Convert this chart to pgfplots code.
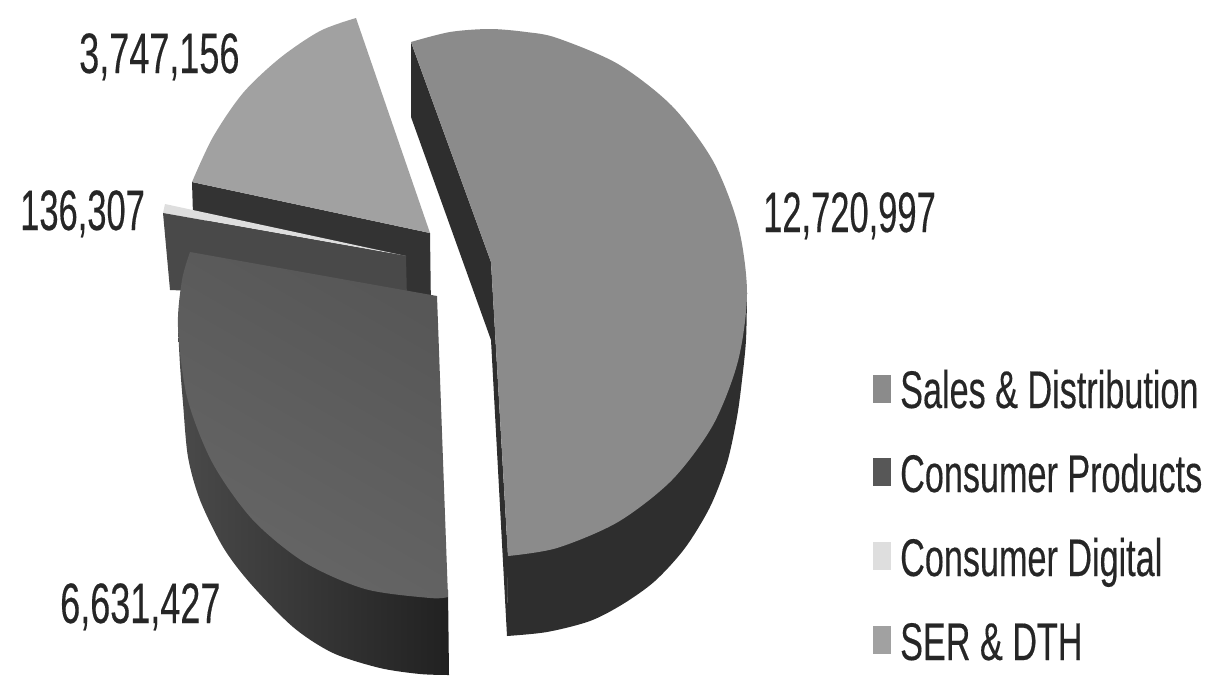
\documentclass[border=0pt]{standalone}
\usepackage{pgfplots}
\pgfplotsset{compat=1.18}
\usepackage{fontspec}
\setmainfont{Liberation Sans}
\newfontfamily\lblfont[FakeStretch=0.632,FakeBold=0.25]{Liberation Sans}
\newfontfamily\lblnarrow[FakeStretch=0.605,FakeBold=0.25]{Liberation Sans}
\newfontfamily\legfont[FakeStretch=0.645,FakeBold=0.25]{Liberation Sans}
\definecolor{salesTop}{gray}{0.545}
\definecolor{salesWall}{gray}{0.18}
\definecolor{prodTopA}{gray}{0.34}
\definecolor{prodTopB}{gray}{0.40}
\definecolor{prodInner}{gray}{0.285}
\definecolor{prodWallA}{gray}{0.29}
\definecolor{prodWallB}{gray}{0.13}
\definecolor{digital}{gray}{0.87}
\definecolor{serTop}{gray}{0.63}
\definecolor{serWall}{gray}{0.2}
\definecolor{inkText}{gray}{0.15}
\begin{document}
\begin{tikzpicture}
\begin{axis}[
  scale only axis, width=1207pt, height=675pt,
  xmin=0, xmax=1207, ymin=0, ymax=675, y dir=reverse,
  hide axis, clip=false,
  every axis plot/.append style={draw=none, forget plot},
]
% Keep the page as large as the whole axis area
\path (axis cs:0,0) rectangle (axis cs:1207,675);
% SER & DTH slice: inner wall, then top face
\addplot[fill=serWall] coordinates {(192,182) (430,233) (431,310) (193,215)} -- cycle;
\addplot[fill=serTop, smooth] coordinates {(192,182) (213,137) (243,93) (280,58) (320,31) (356,18)} -- (axis cs:430,233) -- cycle;
% Consumer Digital sliver and the back wall of Consumer Products
\addplot[fill=digital] coordinates {(165,204) (163,213) (406,256)} -- cycle;
\addplot[fill=prodInner] coordinates {(163,213) (406,256) (407,300) (170,290)} -- cycle;
% Consumer Products: rim wall, then top face
\addplot[smooth, left color=prodWallA, right color=prodWallB] coordinates {(178,327) (180,365) (183,403) (188,457) (200,500) (223,547) (250,583) (293,627) (333,653) (380,668) (420,674) (449,675)} -- (axis cs:448,590) -- cycle;
\addplot[smooth, shading=axis, top color=prodTopA, bottom color=prodTopB, shading angle=-30] coordinates {(190,252) (182,280) (178,327) (187,397) (212,462) (252,519) (304,562) (365,589) (430,598) (448,597)} -- (axis cs:437,296) -- cycle;
% Sales & Distribution: cut wall, rim wall, then top face
\addplot[fill=salesWall] coordinates {(411,42) (491,262) (508,557) (507,636) (491,340) (411,117)} -- cycle;
\addplot[fill=salesWall, smooth] coordinates {(747,293) (746,340) (742,380) (737,417) (727,463) (710,507) (685,548) (655,581) (623,604) (590,621) (547,632) (507,636)} -- (axis cs:508,500) -- cycle;
\addplot[fill=salesTop, smooth] coordinates {(411,42) (450,32) (490,29) (526,32) (557,38) (618,64) (672,106) (713,161) (738,225) (747,293) (738,361) (713,425) (672,480) (618,522) (557,548) (508,556)} -- (axis cs:491,262) -- cycle;
% Legend keys
\addplot[fill=salesTop] coordinates {(873,375) (891,375) (891,403) (873,403)} -- cycle;
\addplot[fill=prodTopA] coordinates {(873,458) (891,458) (891,486) (873,486)} -- cycle;
\addplot[fill=digital] coordinates {(873,542) (891,542) (891,570) (873,570)} -- cycle;
\addplot[fill=serTop] coordinates {(873,626) (891,626) (891,654) (873,654)} -- cycle;
% Value labels
\tikzset{val/.style={anchor=base west, inner sep=0pt, text=inkText, font=\lblfont\fontsize{57}{60}\selectfont},
         valn/.style={anchor=base west, inner sep=0pt, text=inkText, font=\lblnarrow\fontsize{57}{60}\selectfont},
         leg/.style={anchor=base west, inner sep=0pt, text=inkText, font=\legfont\fontsize{53}{60}\selectfont}}
\node[val] at (axis cs:79,73) {3,747,156};
\node[valn] at (axis cs:20,230) {136,307};
\node[valn] at (axis cs:763,232) {12,720,997};
\node[val] at (axis cs:60,623) {6,631,427};
% Legend entries
\node[leg] at (axis cs:900,408) {Sales \& Distribution};
\node[leg] at (axis cs:900,492) {Consumer Products};
\node[leg] at (axis cs:900,576) {Consumer Digital};
\node[leg] at (axis cs:900,660) {SER \& DTH};
\end{axis}
\end{tikzpicture}
\end{document}
